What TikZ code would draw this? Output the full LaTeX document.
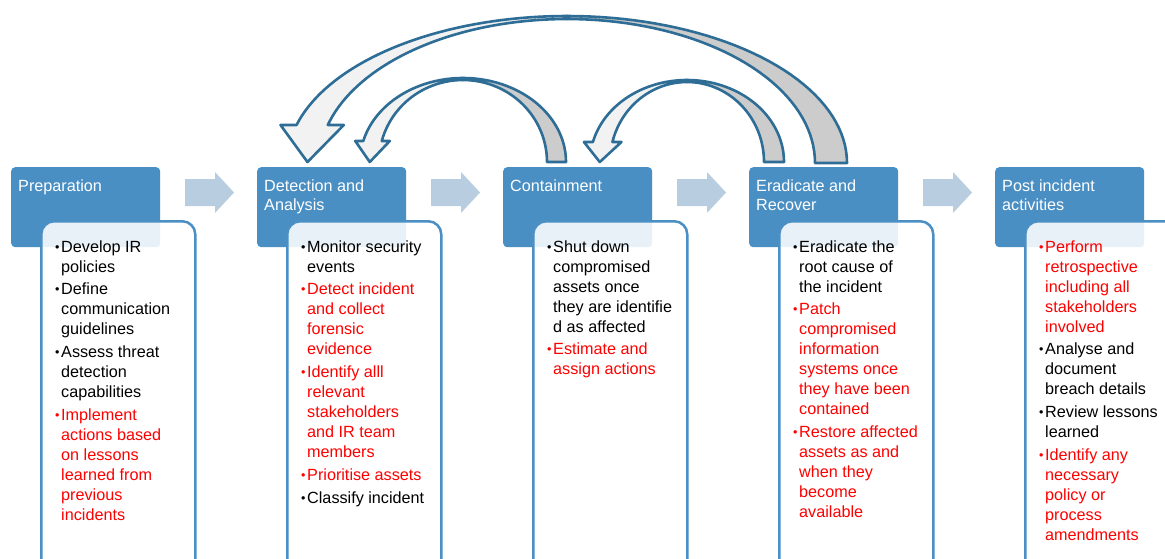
\documentclass[tikz,border=0pt]{standalone}
\usepackage{fontspec}
\setmainfont{Liberation Sans}
\definecolor{hdr}{HTML}{4A8FC4}
\definecolor{bdr}{HTML}{4A90C4}
\definecolor{lt}{HTML}{B9CDE0}
\definecolor{aline}{HTML}{2E6D96}
\definecolor{backf}{HTML}{CCCCCC}
\definecolor{frontf}{HTML}{F2F2F2}
\definecolor{rd}{HTML}{FF0000}
\newcommand\bl{\raisebox{1pt}{\fontsize{12.5}{12}\selectfont\textbullet}}
\newcommand\bi[1]{\makebox[6pt][l]{\bl}#1}
\newcommand\ci[1]{\hspace*{6pt}#1}
\newcommand\st{\rule{0pt}{15pt}}
% Cx, Cy, R, r, Ry, Ryi, endY, tipY, wing
\newcommand\carrow[9]{%
  \pgfmathsetmacro\phio{180-asin((#2-#7)/#5)}%
  \pgfmathsetmacro\phii{180-asin((#2-#7)/#6)}%
  \pgfmathsetmacro\ox{#1+#3*cos(\phio)}%
  \pgfmathsetmacro\ix{#1+#4*cos(\phii)}%
  \pgfmathsetmacro\tx{\ox+0.35*(\ix-\ox)}%
  \filldraw[cback] plot[domain=0:90,samples=40] ({#1+#3*cos(\x)},{#2-#5*sin(\x)})
     -- plot[domain=90:0,samples=40] ({#1+#4*cos(\x)},{#2-#6*sin(\x)}) -- cycle;
  \filldraw[cfront] plot[domain=90:\phio,samples=40] ({#1+#3*cos(\x)},{#2-#5*sin(\x)})
     -- (\ox-#9,#7) -- (\tx,#8) -- (\ix+#9,#7)
     -- plot[domain=\phii:90,samples=40] ({#1+#4*cos(\x)},{#2-#6*sin(\x)}) -- cycle;
}
\newcommand\steparrow[1]{%
  \fill[lt,shift={(#1,0)}] (0,179) -- (30,179) -- (30,172) -- (49,192.5) -- (30,213) -- (30,206) -- (0,206) -- cycle;
}
\begin{document}
\begin{tikzpicture}[x=1pt,y=-1pt,
  hdrbox/.style={fill=hdr, rounded corners=4pt, minimum width=149pt, minimum height=80pt, anchor=north west, inner sep=0pt},
  bodybox/.style={draw=bdr, line width=2.5pt, fill=white, fill opacity=0.88, rounded corners=13pt, minimum width=154pt, minimum height=360pt, anchor=north west, inner sep=0pt},
  hdrtext/.style={text=white, font=\fontsize{16.2}{19}\selectfont, align=left, anchor=north west, inner sep=0pt},
  bodytext/.style={font=\fontsize{16.2}{20}\selectfont, align=left, anchor=north west, inner sep=0pt},
  cback/.style={fill=backf, draw=aline, line width=2.6pt, line join=round},
  cfront/.style={fill=frontf, draw=aline, line width=2.6pt, line join=round},
]
\useasboundingbox (0,0) rectangle (1165,558);
\clip (0,0) rectangle (1165,558);
\fill[white] (0,0) rectangle (1165,558);

% curved feedback arrows
\carrow{567}{163}{280}{248}{147}{144}{125}{162}{16}
\carrow{463}{162}{103}{84}{84}{82}{141}{162}{8}
\carrow{687}{162}{97}{77}{82}{80}{142}{162}{9}

% step arrows
\steparrow{185}
\steparrow{431}
\steparrow{677}
\steparrow{923}

% headers
\node[hdrbox] (h1) at (11,167) {};
\node[hdrbox] (h2) at (257,167) {};
\node[hdrbox] (h3) at (503,167) {};
\node[hdrbox] (h4) at (749,167) {};
\node[hdrbox] (h5) at (995,167) {};
\node[hdrtext] (ht1) at (18,176) {\st Preparation};
\node[hdrtext] (ht2) at (264,176) {\st Detection and\\Analysis};
\node[hdrtext] (ht3) at (510,176) {\st Containment};
\node[hdrtext] (ht4) at (756,176) {\st Eradicate and\\Recover};
\node[hdrtext] (ht5) at (1002,176) {\st Post incident\\activities};

% bodies
\node[bodybox] (b1) at (40,220) {};
\node[bodybox] (b2) at (286,220) {};
\node[bodybox] (b3) at (532,220) {};
\node[bodybox] (b4) at (778,220) {};
\node[bodybox] (b5) at (1024,220) {};

\node[bodytext] (t1) at (55,237) {\st\bi{Develop IR}\\ \ci{policies}\\[2.7pt]
\bi{Define}\\ \ci{communication}\\ \ci{guidelines}\\[2.7pt]
\bi{Assess threat}\\ \ci{detection}\\ \ci{capabilities}\\[2.7pt]
\textcolor{rd}{\bi{Implement}}\\ \textcolor{rd}{\ci{actions based}}\\ \textcolor{rd}{\ci{on lessons}}\\ \textcolor{rd}{\ci{learned from}}\\ \textcolor{rd}{\ci{previous}}\\ \textcolor{rd}{\ci{incidents}}};

\node[bodytext] (t2) at (301,237) {\st\bi{Monitor security}\\ \ci{events}\\[2.7pt]
\textcolor{rd}{\bi{Detect incident}}\\ \textcolor{rd}{\ci{and collect}}\\ \textcolor{rd}{\ci{forensic}}\\ \textcolor{rd}{\ci{evidence}}\\[2.7pt]
\textcolor{rd}{\bi{Identify alll}}\\ \textcolor{rd}{\ci{relevant}}\\ \textcolor{rd}{\ci{stakeholders}}\\ \textcolor{rd}{\ci{and IR team}}\\ \textcolor{rd}{\ci{members}}\\[2.7pt]
\textcolor{rd}{\bi{Prioritise assets}}\\[2.7pt]
\bi{Classify incident}};

\node[bodytext] (t3) at (547,237) {\st\bi{Shut down}\\ \ci{compromised}\\ \ci{assets once}\\ \ci{they are identifie}\\ \ci{d as affected}\\[2.7pt]
\textcolor{rd}{\bi{Estimate and}}\\ \textcolor{rd}{\ci{assign actions}}};

\node[bodytext] (t4) at (793,237) {\st\bi{Eradicate the}\\ \ci{root cause of}\\ \ci{the incident}\\[2.7pt]
\textcolor{rd}{\bi{Patch}}\\ \textcolor{rd}{\ci{compromised}}\\ \textcolor{rd}{\ci{information}}\\ \textcolor{rd}{\ci{systems once}}\\ \textcolor{rd}{\ci{they have been}}\\ \textcolor{rd}{\ci{contained}}\\[2.7pt]
\textcolor{rd}{\bi{Restore affected}}\\ \textcolor{rd}{\ci{assets as and}}\\ \textcolor{rd}{\ci{when they}}\\ \textcolor{rd}{\ci{become}}\\ \textcolor{rd}{\ci{available}}};

\node[bodytext] (t5) at (1039,237) {\st\textcolor{rd}{\bi{Perform}}\\ \textcolor{rd}{\ci{retrospective}}\\ \textcolor{rd}{\ci{including all}}\\ \textcolor{rd}{\ci{stakeholders}}\\ \textcolor{rd}{\ci{involved}}\\[2.7pt]
\bi{Analyse and}\\ \ci{document}\\ \ci{breach details}\\[2.7pt]
\bi{Review lessons}\\ \ci{learned}\\[2.7pt]
\textcolor{rd}{\bi{Identify any}}\\ \textcolor{rd}{\ci{necessary}}\\ \textcolor{rd}{\ci{policy or}}\\ \textcolor{rd}{\ci{process}}\\ \textcolor{rd}{\ci{amendments}}};
\end{tikzpicture}
\end{document}
